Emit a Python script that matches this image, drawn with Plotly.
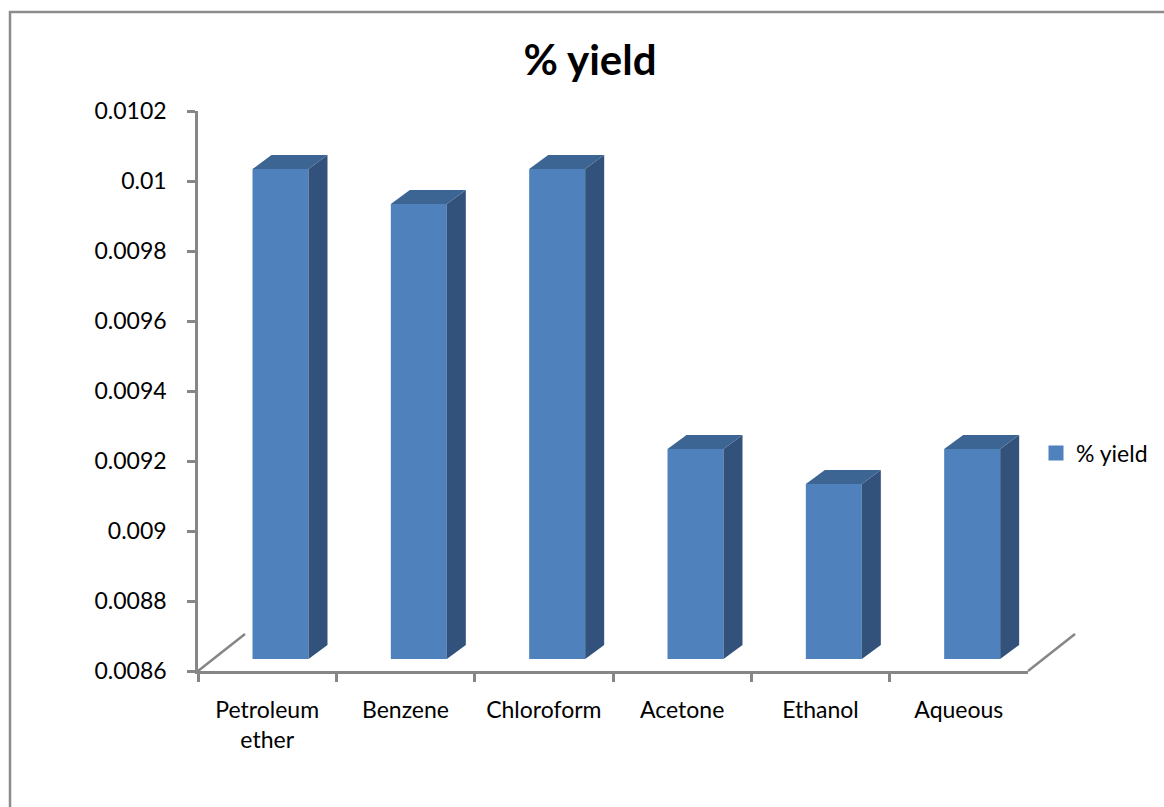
import plotly.graph_objects as go

# ---- data ----
categories = ["Petroleum<br>ether", "Benzene", "Chloroform", "Acetone", "Ethanol", "Aqueous"]
yield_values = [0.0100, 0.0099, 0.0100, 0.0092, 0.0091, 0.0092]
series_name = "% yield"
y_tick_values = [0.0086, 0.0088, 0.0090, 0.0092, 0.0094, 0.0096, 0.0098, 0.0100, 0.0102]
y_tick_labels = ["0.0086", "0.0088", "0.009", "0.0092", "0.0094", "0.0096", "0.0098", "0.01", "0.0102"]

# ---- layout constants (pixels) ----
W, H = 1164, 807
PX_L, PX_R = 198, 1028      # plot area x
PX_T, PX_B = 111, 671       # plot area y
Y_MIN, Y_MAX = 0.0086, 0.0102
n = len(categories)
px_per_cat = (PX_R - PX_L) / n
ypp = (Y_MAX - Y_MIN) / (PX_B - PX_T)   # data units per pixel

FRONT_LEFT = 54.5 / px_per_cat
FRONT_W = 56 / px_per_cat
SHIFT_Y = 12 * ypp
DEPTH_X = 19 / px_per_cat
DEPTH_Y = 14 * ypp
FLOOR_DX, FLOOR_DY = 47, 37

FRONT = "#4F81BD"
TOP = "#3C6594"
SIDE = "#32527C"
AXIS = "#868686"
FONT = "Lato"

fig = go.Figure()

base = Y_MIN + SHIFT_Y
# side and top faces
for i, v in enumerate(yield_values):
    xl = i + FRONT_LEFT
    xr = xl + FRONT_W
    top = v + SHIFT_Y
    fig.add_trace(go.Scatter(
        x=[xr, xr, xr + DEPTH_X, xr + DEPTH_X, xr],
        y=[base, top, top + DEPTH_Y, base + DEPTH_Y, base],
        xaxis="x2", yaxis="y", mode="lines", fill="toself",
        fillcolor=SIDE, line=dict(width=0, color=SIDE),
        showlegend=False, hoverinfo="skip"))
    fig.add_trace(go.Scatter(
        x=[xl, xr, xr + DEPTH_X, xl + DEPTH_X, xl],
        y=[top, top, top + DEPTH_Y, top + DEPTH_Y, top],
        xaxis="x2", yaxis="y", mode="lines", fill="toself",
        fillcolor=TOP, line=dict(width=0, color=TOP),
        showlegend=False, hoverinfo="skip"))

# front faces
fig.add_trace(go.Bar(
    x=[i + FRONT_LEFT + FRONT_W / 2 for i in range(n)],
    y=[v - Y_MIN for v in yield_values],
    base=[base] * n,
    width=FRONT_W,
    xaxis="x2", yaxis="y",
    marker=dict(color=FRONT, line=dict(width=0)),
    name=series_name, showlegend=False))

# legend entry (square swatch)
fig.add_trace(go.Scatter(x=[None], y=[None], xaxis="x2", yaxis="y", mode="markers",
                         marker=dict(symbol="square", size=15, color=FRONT),
                         name=series_name, showlegend=True))

# dummy trace on category axis so it displays
fig.add_trace(go.Scatter(x=categories, y=[None] * n, xaxis="x", yaxis="y",
                         mode="markers", showlegend=False, hoverinfo="skip"))

shapes = [
    # outer border
    dict(type="rect", xref="paper", yref="paper",
         x0=10 / W, x1=1.05, y0=-0.05, y1=1 - 12 / H,
         line=dict(color="#8C8C8C", width=2.5), fillcolor="rgba(0,0,0,0)", layer="below"),
    # floor depth lines
    dict(type="line", xref="paper", yref="paper",
         x0=PX_L / W, y0=1 - PX_B / H, x1=(PX_L + FLOOR_DX) / W, y1=1 - (PX_B - FLOOR_DY) / H,
         line=dict(color=AXIS, width=2.5)),
    dict(type="line", xref="paper", yref="paper",
         x0=PX_R / W, y0=1 - PX_B / H, x1=(PX_R + FLOOR_DX) / W, y1=1 - (PX_B - FLOOR_DY) / H,
         line=dict(color=AXIS, width=2.5)),
]

fig.update_layout(
    template="none",
    width=W, height=H,
    margin=dict(l=0, r=0, t=0, b=0, pad=0),
    paper_bgcolor="white", plot_bgcolor="rgba(0,0,0,0)",
    font=dict(family=FONT, color="black", size=23),
    title=dict(text="<b>% yield</b>", x=590 / W, xanchor="center",
               y=1 - 60 / H, yanchor="middle", font=dict(family=FONT, size=42, color="black")),
    xaxis=dict(type="category", domain=[PX_L / W, PX_R / W], anchor="y",
               categoryorder="array", categoryarray=categories,
               range=[-0.5, n - 0.5], automargin=False,
               tickson="boundaries", ticks="outside", ticklen=8, tickwidth=2.5,
               tickcolor=AXIS, showline=True, linecolor=AXIS, linewidth=2.5,
               showgrid=False, zeroline=False, ticklabelstandoff=17,
               tickfont=dict(family=FONT, size=23, color="black")),
    xaxis2=dict(overlaying="x", range=[0, n], visible=False, anchor="y", automargin=False),
    yaxis=dict(domain=[1 - PX_B / H, 1 - PX_T / H], range=[Y_MIN, Y_MAX], automargin=False,
               tickvals=y_tick_values, ticktext=y_tick_labels,
               ticks="outside", ticklen=8, tickwidth=2.5, tickcolor=AXIS,
               showline=True, linecolor=AXIS, linewidth=2.5,
               showgrid=False, zeroline=False, ticklabelstandoff=16,
               tickfont=dict(family=FONT, size=23, color="black")),
    legend=dict(x=1036 / W, y=1 - 453 / H, xanchor="left", yanchor="middle",
                font=dict(family=FONT, size=23, color="black"),
                bgcolor="rgba(0,0,0,0)", borderwidth=0),
    shapes=shapes,
    barmode="overlay",
)

fig.write_html("out.html")
